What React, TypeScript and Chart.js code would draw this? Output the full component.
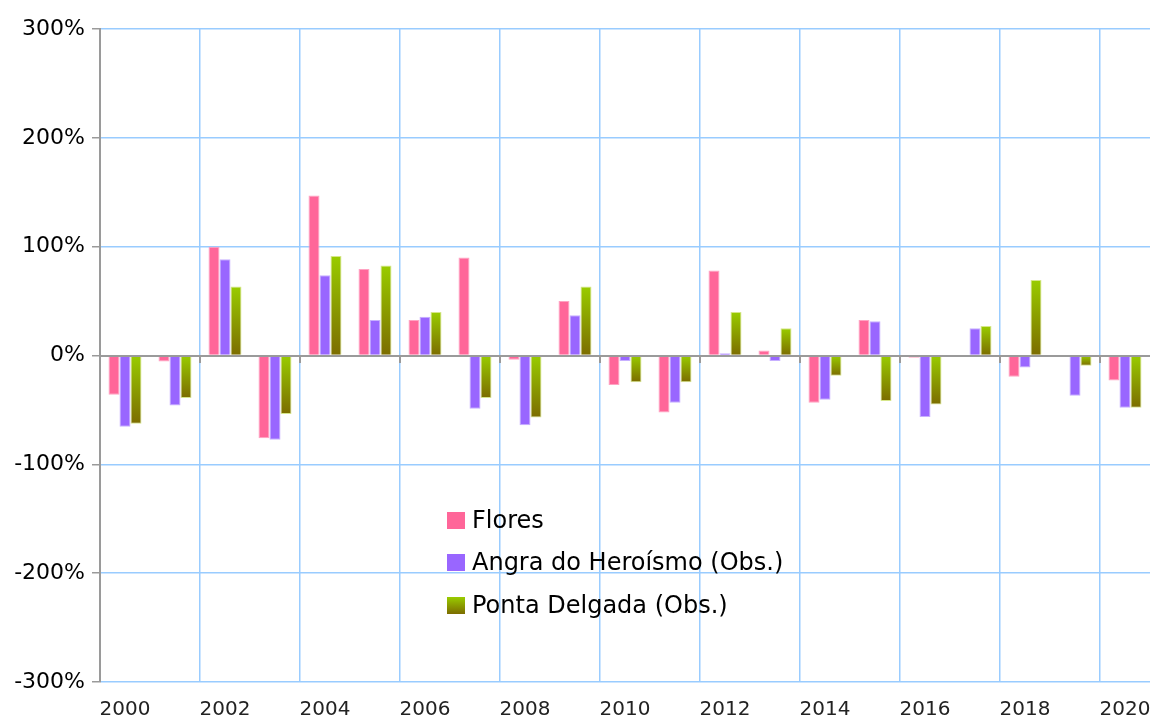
import React, { useEffect, useRef } from 'react';
import { Chart, registerables } from 'chart.js';

Chart.register(...registerables);

const years = ['2000', '2001', '2002', '2003', '2004', '2005', '2006', '2007', '2008', '2009', '2010', '2011', '2012', '2013', '2014', '2015', '2016', '2017', '2018', '2019', '2020'];
const flores = [-36, -5.5, 100, -76, 147, 79.5, 32.7, 90, -4, 50, -27, -52.3, 78, 4.6, -43.4, 32.7, -2, 0, -19.5, -1, -23];
const angra = [-65.4, -46, 88.4, -77.3, 73.7, 32.7, 35.5, -49, -64, 37, -5, -43.4, 2, -5, -40.6, 31.5, -56.5, 25, -11, -37, -48];
const ponta = [-62.6, -39, 63.3, -53.8, 91.5, 82.6, 40, -39, -57, 63.3, -24.5, -24.5, 40, 25, -18.7, -41.9, -45, 27, 69.4, -9.4, -48];
const seriesNames = ['Flores', 'Angra do Heroísmo (Obs.)', 'Ponta Delgada (Obs.)'];
const yMin = -300;
const yMax = 300;
const yStep = 100;

const PINK = '#ff6699';
const PURPLE = '#9966ff';
const GREEN_TOP = '#99cc00';
const GREEN_BOTTOM = '#7c6c00';
const GRID = '#99ccff';
const AXIS = '#9a9a9a';
const FONT = "'DejaVu Sans', sans-serif";

function greenFill(ctx: any) {
  const chart = ctx.chart;
  const y = chart.scales && chart.scales.y;
  if (ctx.type !== 'data' || !y) return GREEN_TOP;
  const p0 = y.getPixelForValue(0);
  const p1 = y.getPixelForValue(ctx.raw);
  if (!isFinite(p0) || !isFinite(p1) || Math.abs(p0 - p1) < 0.5) return GREEN_TOP;
  const g = chart.ctx.createLinearGradient(0, Math.min(p0, p1), 0, Math.max(p0, p1));
  g.addColorStop(0, GREEN_TOP);
  g.addColorStop(1, GREEN_BOTTOM);
  return g;
}

const overlayPlugin = {
  id: 'overlay',
  afterDatasetsDraw(chart: any) {
    const { ctx, chartArea, scales } = chart;
    const x = scales.x;
    const y = scales.y;
    const zeroY = Math.round(y.getPixelForValue(0));
    ctx.save();
    // zero axis line
    ctx.strokeStyle = AXIS;
    ctx.lineWidth = 2;
    ctx.beginPath();
    ctx.moveTo(chartArea.left, zeroY);
    ctx.lineTo(chartArea.right, zeroY);
    ctx.stroke();
    // tick marks on zero axis
    const half = (x.getPixelForValue(1) - x.getPixelForValue(0)) / 2;
    for (let i = 0; i < years.length; i += 2) {
      const px = Math.round(x.getPixelForValue(i) - half);
      ctx.beginPath();
      ctx.moveTo(px, zeroY);
      ctx.lineTo(px, zeroY + 7);
      ctx.stroke();
    }
    // legend
    const colors = [PINK, PURPLE, null];
    const lx = 447;
    const rowsY = [521, 563, 606];
    ctx.font = `24px ${FONT}`;
    ctx.textBaseline = 'middle';
    ctx.textAlign = 'left';
    for (let i = 0; i < seriesNames.length; i++) {
      const cy = rowsY[i];
      const top = cy - 9;
      let fill: any = colors[i];
      if (!fill) {
        const g = ctx.createLinearGradient(0, top, 0, top + 17);
        g.addColorStop(0, GREEN_TOP);
        g.addColorStop(1, GREEN_BOTTOM);
        fill = g;
      }
      ctx.fillStyle = fill;
      ctx.fillRect(lx, top, 18, 17);
      ctx.fillStyle = '#000';
      ctx.fillText(seriesNames[i], lx + 25, cy + 1);
    }
    ctx.restore();
  },
};

export default function App() {
  const ref = useRef<HTMLCanvasElement | null>(null);
  useEffect(() => {
    if (!ref.current) return;
    const chart = new Chart(ref.current, {
      type: 'bar',
      data: {
        labels: years,
        datasets: [
          { label: seriesNames[0], data: flores, backgroundColor: PINK, borderColor: '#ffa3c2', borderWidth: 1 },
          { label: seriesNames[1], data: angra, backgroundColor: PURPLE, borderColor: '#c7b0ff', borderWidth: 1 },
          { label: seriesNames[2], data: ponta, backgroundColor: greenFill as any, borderColor: '#d6e68a', borderWidth: 1 },
        ],
      },
      options: {
        animation: false,
        responsive: true,
        maintainAspectRatio: false,
        layout: { padding: { top: 29, right: 5, left: 0, bottom: 0 } },
        datasets: { bar: { categoryPercentage: 0.66, barPercentage: 1 } },
        plugins: { legend: { display: false }, tooltip: { enabled: false } },
        scales: {
          x: {
            offset: true,
            grid: {
              offset: true,
              drawTicks: false,
              lineWidth: 1.5,
              color: (c: any) => (c.index !== undefined && c.index % 2 === 0 ? GRID : 'rgba(0,0,0,0)'),
            },
            border: { display: false },
            ticks: {
              autoSkip: false,
              maxRotation: 0,
              padding: 16,
              color: '#222',
              font: { family: FONT, size: 20 },
              callback: function (this: any, value: any, index: number) {
                return index % 2 === 0 ? this.getLabelForValue(value) : '';
              },
            },
            afterFit: (s: any) => {
              s.height = 35;
              s.paddingLeft = 0;
              s.paddingRight = 0;
            },
          },
          y: {
            min: yMin,
            max: yMax,
            grid: {
              lineWidth: 1.5,
              color: (c: any) => (c.tick && c.tick.value === 0 ? AXIS : GRID),
              tickColor: AXIS,
              tickLength: 8,
              tickWidth: 1.5,
            },
            border: { display: true, color: AXIS, width: 2 },
            ticks: {
              stepSize: yStep,
              padding: 7,
              color: '#000',
              font: { family: FONT, size: 22 },
              callback: (v: any) => `${v}%`,
            },
            afterFit: (s: any) => {
              s.width = 100;
              s.paddingTop = 0;
              s.paddingBottom = 0;
            },
          },
        },
      },
      plugins: [overlayPlugin],
    });
    return () => chart.destroy();
  }, []);
  return (
    <div style={{ position: 'fixed', left: 0, top: 0, width: 1155, height: 717, background: '#fff' }}>
      <canvas ref={ref} />
    </div>
  );
}
